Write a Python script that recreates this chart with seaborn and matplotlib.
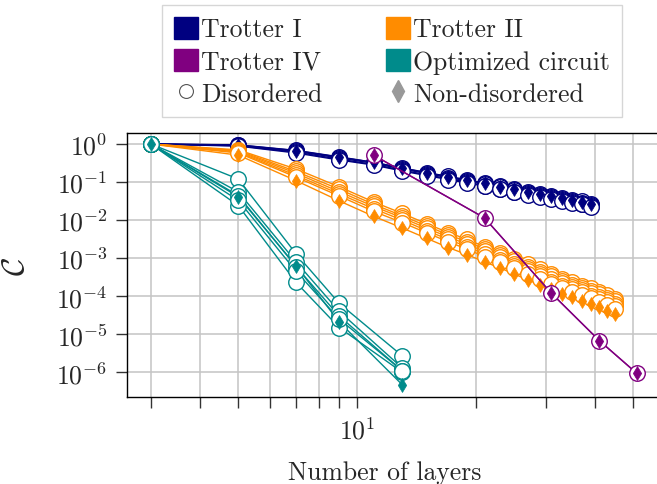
import numpy as np
import pandas as pd
import matplotlib
matplotlib.use("Agg")
import matplotlib.pyplot as plt
import seaborn as sns
from matplotlib.patches import Patch
from matplotlib.lines import Line2D
from matplotlib.ticker import LogLocator, NullLocator, NullFormatter

# ---------------- data ----------------
layers_t1 = [3, 5, 7, 9, 11, 13, 15, 17, 19, 21, 23, 25, 27, 29, 31, 33, 35, 37, 39]
t1_clean = [1.0, 0.94, 0.67, 0.45, 0.33, 0.23, 0.176, 0.138, 0.113, 0.093, 0.076, 0.064,
            0.056, 0.048, 0.043, 0.038, 0.034, 0.0305, 0.026]
t1_dis_a = [1.0, 0.95, 0.68, 0.46, 0.33, 0.235, 0.178, 0.14, 0.114, 0.094, 0.077, 0.065,
            0.056, 0.049, 0.043, 0.038, 0.034, 0.031, 0.027]
t1_dis_b = [1.0, 0.92, 0.64, 0.43, 0.31, 0.22, 0.167, 0.131, 0.107, 0.088, 0.072, 0.061,
            0.053, 0.046, 0.041, 0.036, 0.032, 0.029, 0.025]
t1_dis_c = [1.0, 0.90, 0.61, 0.40, 0.29, 0.205, 0.155, 0.122, 0.099, 0.081, 0.067, 0.056,
            0.049, 0.043, 0.038, 0.033, 0.030, 0.027, 0.023]
t1_dis_d = [1.0, 0.88, 0.58, 0.38, 0.28, 0.195, 0.148, 0.116, 0.094, 0.078, 0.064, 0.054,
            0.047, 0.041, 0.036, 0.032, 0.029, 0.026, 0.022]

layers_t2 = [3, 5, 7, 9, 11, 13, 15, 17, 19, 21, 23, 25, 27, 29, 31, 33, 35, 37, 39, 41, 43, 45]
t2_clean = [1.0, 0.51, 0.109, 0.032, 0.0126, 0.0062, 0.0033, 0.0019, 0.00123, 8.0e-4, 5.5e-4,
            3.8e-4, 2.7e-4, 2.0e-4, 1.5e-4, 1.15e-4, 9.3e-5, 7.6e-5, 6.3e-5, 5.1e-5, 4.2e-5, 3.4e-5]
t2_dis_a = [1.0, 0.70, 0.22, 0.075, 0.030, 0.015, 0.0080, 0.0047, 0.0031, 0.0020, 0.0014,
            9.6e-4, 6.9e-4, 5.1e-4, 3.8e-4, 2.9e-4, 2.3e-4, 1.9e-4, 1.6e-4, 1.3e-4, 1.05e-4, 8.5e-5]
t2_dis_b = [1.0, 0.67, 0.19, 0.065, 0.026, 0.013, 0.0070, 0.0041, 0.0027, 0.00175, 0.00122,
            8.4e-4, 6.0e-4, 4.4e-4, 3.3e-4, 2.5e-4, 2.0e-4, 1.65e-4, 1.38e-4, 1.13e-4, 9.2e-5, 7.3e-5]
t2_dis_c = [1.0, 0.64, 0.17, 0.056, 0.023, 0.0115, 0.0061, 0.0036, 0.0023, 0.0015, 0.00105,
            7.2e-4, 5.2e-4, 3.8e-4, 2.8e-4, 2.2e-4, 1.75e-4, 1.45e-4, 1.2e-4, 9.8e-5, 8.0e-5, 6.3e-5]
t2_dis_d = [1.0, 0.61, 0.15, 0.049, 0.020, 0.0100, 0.0053, 0.0031, 0.0020, 0.0013, 9.1e-4,
            6.3e-4, 4.5e-4, 3.3e-4, 2.4e-4, 1.9e-4, 1.5e-4, 1.25e-4, 1.03e-4, 8.4e-5, 6.9e-5, 5.4e-5]
t2_dis_e = [1.0, 0.58, 0.135, 0.043, 0.017, 0.0086, 0.0046, 0.0027, 0.0017, 0.0011, 7.8e-4,
            5.4e-4, 3.9e-4, 2.8e-4, 2.1e-4, 1.65e-4, 1.3e-4, 1.07e-4, 8.8e-5, 7.2e-5, 5.9e-5, 4.6e-5]

layers_t4 = [11, 21, 31, 41, 51]
t4_clean = [0.51, 0.0114, 1.2e-4, 6.8e-6, 9.4e-7]
t4_dis_a = [0.51, 0.0114, 1.2e-4, 6.8e-6, 9.4e-7]

layers_opt = [3, 5, 7, 9, 13]
opt_clean = [1.0, 0.041, 6.3e-4, 2.1e-5, 4.7e-7]
opt_dis_a = [1.0, 0.12, 1.3e-3, 6.5e-5, 2.7e-6]
opt_dis_b = [1.0, 0.055, 8.0e-4, 4.0e-5, 1.3e-6]
opt_dis_c = [1.0, 0.044, 6.0e-4, 3.0e-5, 1.1e-6]
opt_dis_d = [1.0, 0.024, 2.3e-4, 1.5e-5, 1.0e-6]
opt_dis_e = [1.0, 0.033, 4.5e-4, 2.5e-5, 1.1e-6]

method_names = ["Trotter I", "Trotter II", "Trotter IV", "Optimized circuit"]
method_colors = ["#000080", "#FF8C00", "#800080", "#008B8B"]
marker_labels = ["Disordered", "Non-disordered"]
y_label = r"$\mathcal{C}$"
x_label = "Number of layers"

methods = [
    (layers_t1, t1_clean, [t1_dis_a, t1_dis_b, t1_dis_c, t1_dis_d]),
    (layers_t2, t2_clean, [t2_dis_a, t2_dis_b, t2_dis_c, t2_dis_d, t2_dis_e]),
    (layers_t4, t4_clean, [t4_dis_a]),
    (layers_opt, opt_clean, [opt_dis_a, opt_dis_b, opt_dis_c, opt_dis_d, opt_dis_e]),
]

# ---------------- style ----------------
sns.set_style("white")
plt.rcParams["font.family"] = "serif"
plt.rcParams["font.serif"] = ["cmr10", "DejaVu Serif"]
plt.rcParams["mathtext.fontset"] = "cm"
plt.rcParams["axes.formatter.use_mathtext"] = True
plt.rcParams["axes.unicode_minus"] = False

FS = 18.5

fig = plt.figure(figsize=(6.57, 4.85), dpi=100)
ax = fig.add_axes([127 / 657, 87 / 485, 533 / 657, 264 / 485])

for k, ((xs, clean, dis_list), color) in enumerate(zip(methods, method_colors)):
    base = 2 + 3 * k
    for dis in dis_list:
        sns.lineplot(x=xs, y=dis, ax=ax, color=color, lw=1.0, estimator=None,
                     sort=False, zorder=base)
    sns.lineplot(x=xs, y=clean, ax=ax, color=color, lw=1.0, estimator=None,
                 sort=False, zorder=base)
    for dis in dis_list:
        sns.scatterplot(x=xs, y=dis, ax=ax, marker="o", s=125, facecolor="white",
                        edgecolor=color, linewidth=1.0, zorder=base + 1)
    sns.scatterplot(x=xs, y=clean, ax=ax, marker="d", s=50, color=color,
                    edgecolor=color, linewidth=0.5, zorder=base + 2)

ax.set_xscale("log")
ax.set_yscale("log")
ax.set_xlim(2.613, 58.4)
ax.set_ylim(2.24e-7, 1.946)

ax.yaxis.set_major_locator(LogLocator(base=10, numticks=20))
ax.yaxis.set_minor_locator(NullLocator())
ax.xaxis.set_minor_locator(LogLocator(base=10, subs=np.arange(2, 10), numticks=20))
ax.xaxis.set_minor_formatter(NullFormatter())

ax.grid(True, which="both", axis="x", color="#c4c4c4", lw=1.1)
ax.grid(True, which="major", axis="y", color="#c4c4c4", lw=1.1)
ax.set_axisbelow(True)

for s in ["left", "bottom", "top", "right"]:
    ax.spines[s].set_color("black")
    ax.spines[s].set_linewidth(1.0)

ax.tick_params(axis="both", which="both", direction="out", length=8, width=1,
               color="#333333", labelsize=FS, bottom=True, left=True)
ax.tick_params(axis="x", which="major", pad=6)
ax.tick_params(axis="y", which="major", pad=6)

ax.set_xlabel(x_label, fontsize=FS)
ax.xaxis.set_label_coords((385 - 127) / 533, -0.24)
ax.set_ylabel(y_label, fontsize=23, rotation=90)
ax.yaxis.set_label_coords((30 - 127) / 533, 0.5)

# ---------------- legend ----------------
patch_handles = [Patch(facecolor=c, edgecolor=c) for c in method_colors]
circ = Line2D([], [], marker="o", ls="none", mfc="white", mec="#555555", mew=0.8, ms=10)
diam = Line2D([], [], marker="d", ls="none", mfc="#999999", mec="#999999", ms=11)
handles = [patch_handles[0], patch_handles[2], circ, patch_handles[1], patch_handles[3], diam]
labels = [method_names[0], method_names[2], marker_labels[0],
          method_names[1], method_names[3], marker_labels[1]]
leg = fig.legend(handles, labels, ncol=2, loc="upper center",
                 bbox_to_anchor=(392 / 657, 1 - 6 / 485), fontsize=FS,
                 handlelength=0.95, handleheight=0.95, handletextpad=0.12,
                 columnspacing=2.45, labelspacing=0.28, borderpad=0.45,
                 frameon=True, fancybox=False, borderaxespad=0)
leg.get_frame().set_edgecolor("#cccccc")
leg.get_frame().set_linewidth(1.0)

fig.savefig("out.png", dpi=100)
